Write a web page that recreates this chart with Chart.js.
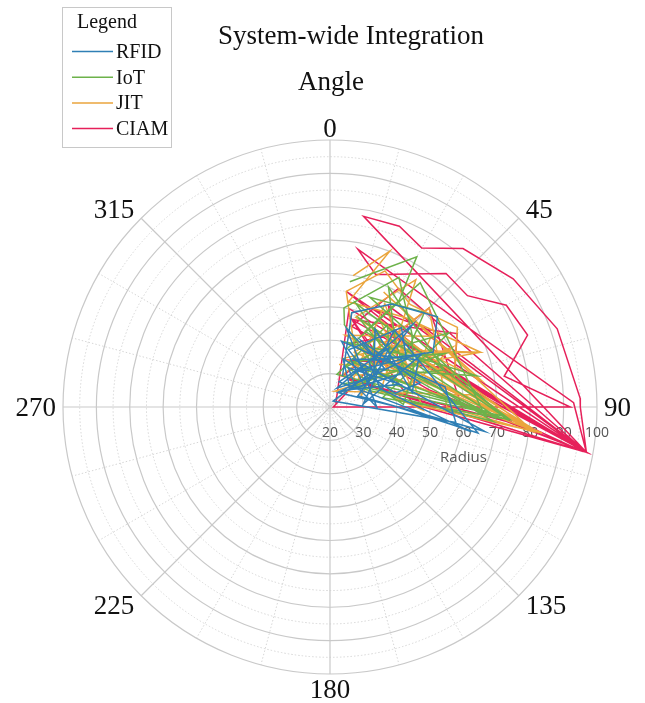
<!DOCTYPE html>
<html><head><meta charset="utf-8">
<script src="https://cdn.jsdelivr.net/npm/chart.js@4.4.1/dist/chart.umd.min.js"></script>
<style>html,body{margin:0;padding:0;background:#fff;}canvas{display:block}</style>
</head><body>
<canvas id="c" width="645" height="703"></canvas>
<script>
// ---- data (theta in degrees clockwise from top, r on radial axis) ----
const seriesNames = ['RFID', 'IoT', 'JIT', 'CIAM'];
const seriesColors = ['#2f7fb5', '#6db24a', '#eaa53c', '#e6205a'];

const rfidTheta = [22,13,31,50,62,40,70,100,20,45,85,60,35,55,25,75,78,15,50,65,30,88,100,40,60,10,80,97,28,50,
                   18,42,58,35,72,25,48,90,12,38,62,80,30,55,20,45,68,99,26,52];
const rfidR     = [30,49,56,62,55,38,36,63,28,45,30,52,33,40,42,48,40,35,28,44,25,38,65,50,32,40,55,58,22,35,
                   38,52,47,26,42,33,30,34,44,40,50,45,47,36,26,55,29,67,36,43];

const iotTheta = [9,30,33,25,94,15,60,78,40,94,20,45,70,92,12,35,55,85,94,25,65,50,93,18,40,75,95,30,60,10,
                  8,28,48,68,88,22,38,58,80,94,14,32,52,72,26,44,62,92,36,16];
const iotR     = [58,72,58,45,71,40,50,65,35,73,55,60,40,68,30,50,42,55,70,35,58,30,72,48,44,50,69,28,38,45,
                  50,64,53,47,42,33,40,62,36,74,52,46,34,56,60,48,45,66,66,38];

const jitTheta = [10,21,10,40,70,30,97,15,50,80,25,96,35,60,20,45,90,97,12,55,75,30,95,43,70,65,18,85,96,28,50,70,
                  8,22,38,58,78,96,16,34,52,72,92,28,46,64,84,97,24,40,60,12];
const jitR     = [60,70,52,55,68,40,83,35,50,66,58,80,45,40,30,62,55,82,42,57,45,50,78,42,68,52,25,62,81,47,38,30,
                  55,64,59,65,58,79,48,66,43,36,48,55,28,61,40,84,38,52,46,33];

const ciamTheta = [60,11,100,15,30,100,10,21,30,40,55,71,88,90,100,14,60,78,100,89,10,19,41,51,60,70,80,90,90,45,12,88,100,20,70,100,35,95,
                   8,100,24,50,100,40,18,80,100,30,60,100,22,45,92];
const ciamR     = [22,50,98,45,61,98,78,78,75,82,87,92,95,95,98,47,64,58,98,93,68,62,73,73,81,83,73,92,21,40,48,45,98,35,55,98,30,75,
                   55,98,52,57,98,48,40,50,98,55,44,97,30,62,60];

const angleTicks  = [0,45,90,135,180,225,270,315];
const radialTicks = [20,30,40,50,60,70,80,90,100];
const minorRings  = [25,35,45,55,65,75,85,95];
const spokeStep   = 15;
const R_MIN = 20, R_MAX = 100;

const titleText = 'System-wide Integration';
const angleTitle = 'Angle';
const radiusTitle = 'Radius';
const legendTitle = 'Legend';

function toPoints(thetas, rs){
  return thetas.map((t,i)=>{
    const a = t*Math.PI/180, d = rs[i]-R_MIN;
    return {x: d*Math.sin(a), y: d*Math.cos(a)};
  });
}
const seriesData = [toPoints(rfidTheta,rfidR), toPoints(iotTheta,iotR), toPoints(jitTheta,jitR), toPoints(ciamTheta,ciamR)];

const SERIF = '"Liberation Serif", "Times New Roman", serif';
const SANS = '"Open Sans", "Liberation Sans", sans-serif';

function geom(chart){
  const xs = chart.scales.x, ys = chart.scales.y;
  const cx = xs.getPixelForValue(0), cy = ys.getPixelForValue(0);
  const k = xs.getPixelForValue(1) - cx;
  return {cx, cy, k, R: k*(R_MAX-R_MIN)};
}

const polarGrid = {
  id: 'polarGrid',
  beforeDatasetsDraw(chart){
    const ctx = chart.ctx; const g = geom(chart);
    ctx.save();
    ctx.strokeStyle = '#d6d6d6'; ctx.lineWidth = 1; ctx.setLineDash([1.5,2]);
    minorRings.forEach(r=>{ ctx.beginPath(); ctx.arc(g.cx,g.cy,(r-R_MIN)*g.k,0,Math.PI*2); ctx.stroke(); });
    for(let a=0;a<360;a+=spokeStep){
      if(a%45===0) continue;
      const rad=a*Math.PI/180;
      ctx.beginPath(); ctx.moveTo(g.cx,g.cy); ctx.lineTo(g.cx+g.R*Math.sin(rad), g.cy-g.R*Math.cos(rad)); ctx.stroke();
    }
    ctx.setLineDash([]);
    ctx.strokeStyle = '#c9c9c9'; ctx.lineWidth = 1.2;
    radialTicks.forEach(r=>{ if(r===R_MIN) return; ctx.beginPath(); ctx.arc(g.cx,g.cy,(r-R_MIN)*g.k,0,Math.PI*2); ctx.stroke(); });
    angleTicks.forEach(a=>{
      const rad=a*Math.PI/180;
      ctx.beginPath(); ctx.moveTo(g.cx,g.cy); ctx.lineTo(g.cx+g.R*Math.sin(rad), g.cy-g.R*Math.cos(rad)); ctx.stroke();
    });
    ctx.fillStyle = '#555'; ctx.font = '14px '+SANS; ctx.textAlign='center'; ctx.textBaseline='middle';
    radialTicks.forEach(r=>{ ctx.fillText(String(r), g.cx+(r-R_MIN)*g.k, g.cy+26); });
    ctx.font = '15px '+SANS;
    ctx.fillText(radiusTitle, g.cx+g.R/2, g.cy+51);
    ctx.restore();
  },
  afterDraw(chart){
    const ctx = chart.ctx; const g = geom(chart);
    ctx.save();
    ctx.fillStyle = '#111';
    ctx.font = '27px '+SERIF; ctx.textBaseline='middle'; ctx.textAlign='center';
    angleTicks.forEach(a=>{
      const rad=a*Math.PI/180; const s=Math.sin(rad), c=Math.cos(rad);
      const txt=String(a); const w=ctx.measureText(txt).width;
      const rx = g.cx+g.R*s, ry = g.cy-g.R*c;
      const ox = Math.abs(s)>0.01 ? Math.sign(s)*(w/2+7) : 0;
      const oy = -c*12.5 + 2 + (c < -0.9 ? 2 : 0);
      ctx.fillText(txt, rx+ox, ry+oy);
    });
    ctx.textBaseline='alphabetic';
    ctx.font = '27px '+SERIF;
    ctx.fillText(titleText, 351, 44);
    ctx.fillText(angleTitle, 331, 90);
    ctx.strokeStyle='#c8c8c8'; ctx.lineWidth=1;
    ctx.strokeRect(62.5,7.5,109,140);
    ctx.textAlign='left';
    ctx.font='20px '+SERIF;
    ctx.fillText(legendTitle, 77, 28);
    chart.data.datasets.forEach((ds,i)=>{
      const base = 58 + i*25.7;
      ctx.strokeStyle = ds.borderColor; ctx.lineWidth=1.5;
      ctx.beginPath(); ctx.moveTo(72, base-6.5); ctx.lineTo(113, base-6.5); ctx.stroke();
      ctx.fillStyle='#111';
      ctx.fillText(ds.label, 116, base);
    });
    ctx.restore();
  }
};

new Chart(document.getElementById('c'), {
  type: 'scatter',
  data: {
    datasets: seriesNames.map((n,i)=>({
      label: n, data: seriesData[i], showLine: true, borderColor: seriesColors[i],
      backgroundColor: seriesColors[i], borderWidth: 1.5, pointRadius: 0, fill: false, tension: 0, clip: false
    }))
  },
  options: {
    responsive: false, animation: false,
    layout: {padding: {left: 63, right: 48, top: 140, bottom: 29}},
    scales: {
      x: {type: 'linear', min: -(R_MAX-R_MIN), max: R_MAX-R_MIN, display: false},
      y: {type: 'linear', min: -(R_MAX-R_MIN), max: R_MAX-R_MIN, display: false}
    },
    plugins: {legend: {display: false}, title: {display: false}, tooltip: {enabled: false}}
  },
  plugins: [polarGrid]
});
</script>
</body></html>
